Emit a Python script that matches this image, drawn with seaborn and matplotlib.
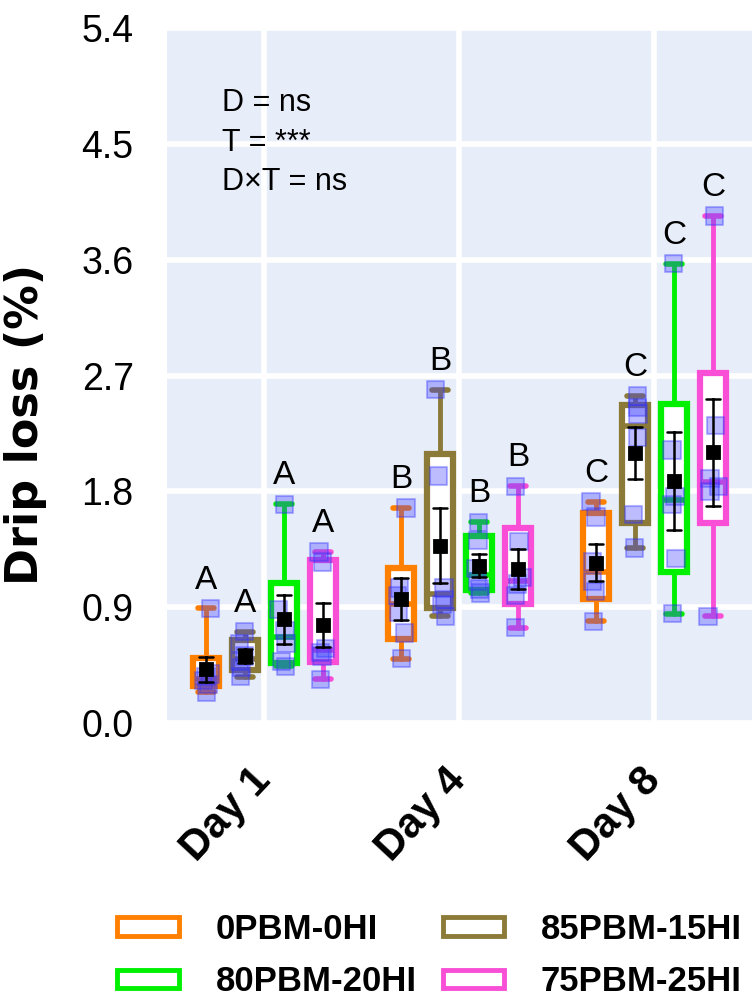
import numpy as np
import pandas as pd
import matplotlib
matplotlib.use('Agg')
import matplotlib.pyplot as plt
import matplotlib.patches as mpatches
import matplotlib.transforms as mtransforms
import seaborn as sns

# categories
days = ['Day 1', 'Day 4', 'Day 8']
diets = ['0PBM-0HI', '85PBM-15HI', '80PBM-20HI', '75PBM-25HI']
letters = ['A', 'B', 'C']  # one letter per day

# drip loss (%) of each replicate, per diet, per day
pbm0_hi0 = [[0.24, 0.30, 0.33, 0.36, 0.38, 0.89],
            [0.50, 0.70, 0.86, 0.99, 1.05, 1.67],
            [0.79, 1.02, 1.10, 1.25, 1.60, 1.72]]
pbm85_hi15 = [[0.36, 0.43, 0.48, 0.52, 0.62, 0.71],
              [0.83, 0.92, 0.96, 1.05, 1.92, 2.59],
              [1.36, 1.62, 2.22, 2.40, 2.45, 2.54]]
pbm80_hi20 = [[0.44, 0.48, 0.62, 0.72, 0.88, 1.70],
              [1.01, 1.04, 1.10, 1.20, 1.42, 1.56],
              [0.85, 1.28, 1.70, 1.76, 2.12, 3.57]]
pbm75_hi25 = [[0.34, 0.52, 0.55, 0.58, 1.25, 1.33],
              [0.74, 0.99, 1.08, 1.13, 1.41, 1.84],
              [0.83, 1.80, 1.84, 1.90, 2.31, 3.94]]

stats_text = ['D = ns', 'T = ***', 'D\u00d7T = ns']
yticks = [0.0, 0.9, 1.8, 2.7, 3.6, 4.5, 5.4]

colors = ['#FF7F00', '#8B7A38', '#00F000', '#F84FD6']

all_vals = [pbm0_hi0, pbm85_hi15, pbm80_hi20, pbm75_hi25]
rows = []
for diet, per_day in zip(diets, all_vals):
    for day, vals in zip(days, per_day):
        for v in vals:
            rows.append({'day': day, 'diet': diet, 'value': v})
df = pd.DataFrame(rows)

sns.set_theme(style='darkgrid', rc={'axes.facecolor': '#E8EEF9',
                                    'grid.color': 'white',
                                    'grid.linewidth': 4,
                                    'xtick.color': 'black',
                                    'ytick.color': 'black',
                                    'text.color': 'black',
                                    'axes.labelcolor': 'black'})
plt.rcParams['font.family'] = ['Liberation Sans', 'DejaVu Sans']

fig = plt.figure(figsize=(7.56, 9.97), dpi=100)
ax = fig.add_axes([0.2209, 0.2748, 0.7738, 0.6971])

np.random.seed(3)
sns.stripplot(data=df, x='day', y='value', hue='diet', order=days, hue_order=diets,
              dodge=True, jitter=0.12, marker='s', size=12.5,
              palette=['#4040FF'] * 4, alpha=0.35, linewidth=1.5,
              edgecolor='#3030FF', legend=False, zorder=3, ax=ax)

sns.pointplot(data=df, x='day', y='value', hue='diet', order=days, hue_order=diets,
              estimator='mean', errorbar='se', dodge=0.6, palette=['black'] * 4,
              marker='s', linestyle='none', markersize=8, capsize=0.07,
              err_kws={'linewidth': 1.8, 'zorder': 5}, legend=False, zorder=6, ax=ax)

# boxes (quartiles by the weibull / type 6 method)
for h, (per_day, col) in enumerate(zip(all_vals, colors)):
    bstats = []
    pos = []
    for d, vals in enumerate(per_day):
        q1, med, q3 = np.percentile(vals, [25, 50, 75], method='weibull')
        bstats.append({'med': med, 'q1': q1, 'q3': q3,
                       'whislo': min(vals), 'whishi': max(vals), 'fliers': []})
        pos.append(d - 0.3 + 0.2 * h)
    ax.bxp(bstats, positions=pos, widths=0.13, patch_artist=True,
           showfliers=False, manage_ticks=False, capwidths=0.08,
           boxprops=dict(facecolor='white', edgecolor=col, linewidth=4.5),
           whiskerprops=dict(color=col, linewidth=3.5),
           capprops=dict(color=col, linewidth=4),
           medianprops=dict(color=col, linewidth=4),
           zorder=2)
    for d, vals in enumerate(per_day):
        ax.text(d - 0.3 + 0.2 * h, max(vals) + 0.1, letters[d],
                ha='center', va='bottom', fontsize=24, color='black', zorder=7)

for i, s in enumerate(stats_text):
    ax.text(-0.22, 4.82 - 0.31 * i, s, ha='left', va='center', fontsize=22)

ax.set_xlim(-0.5, 2.5)
ax.set_ylim(0, 5.4)
ax.xaxis.grid(True)
ax.yaxis.grid(True)
ax.set_yticks(yticks)
ax.set_yticklabels([f'{v:.1f}' for v in yticks], fontsize=27)
ax.set_xticks(range(len(days)))
ax.set_xticklabels(days, fontsize=30, fontweight='bold', rotation=47,
                   ha='right', va='center', rotation_mode='anchor')
shift = mtransforms.ScaledTranslation(5 / 72, 0, fig.dpi_scale_trans)
for lab in ax.get_xticklabels():
    lab.set_transform(lab.get_transform() + shift)
ax.tick_params(axis='y', pad=18)
ax.tick_params(axis='x', pad=31)
ax.set_xlabel('')
ax.set_ylabel('Drip loss (%)', fontsize=32, fontweight='bold', family=['DejaVu Sans'])
ax.yaxis.set_label_coords(-0.205, 0.43)
for sp in ax.spines.values():
    sp.set_visible(False)

order = [0, 2, 1, 3]
handles = [mpatches.Patch(facecolor='white', edgecolor=colors[i], linewidth=3.5,
                          label=diets[i]) for i in order]
fig.legend(handles=handles, loc='upper left', bbox_to_anchor=(0.155, 0.084),
           ncol=2, frameon=False, prop={'weight': 'bold', 'size': 25},
           handlelength=1.77, handleheight=0.46, handletextpad=1.06,
           columnspacing=0.75, labelspacing=0.55, borderpad=0, borderaxespad=0)

fig.savefig('out.png', dpi=100)
